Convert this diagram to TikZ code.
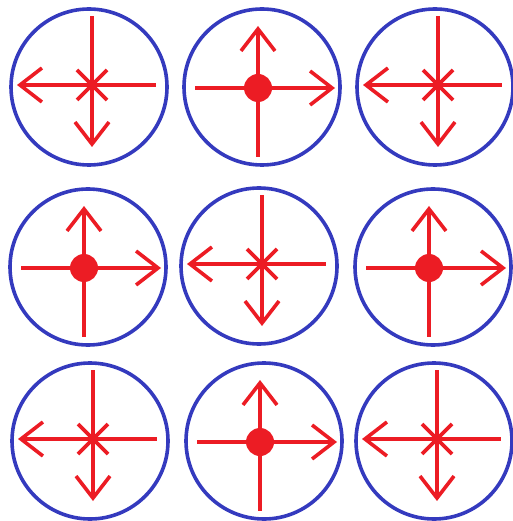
\documentclass[tikz,border=0pt]{standalone}
\usetikzlibrary{arrows.meta}
\definecolor{ringblue}{RGB}{52,58,190}
\definecolor{arrred}{RGB}{236,28,36}
\tikzset{
  ring/.style={draw=ringblue, line width=3.6pt},
  axis/.style={draw=arrred, line width=3.6pt},
  axarrow/.style={axis, -{Straight Barb[length=22pt,width=34pt,line width=3.6pt]}},
  hub/.style={fill=arrred},
}
\newcommand\cellA[2]{%
  \path[ring] (#1,#2) circle (78);
  \begin{scope}[shift={(#1+3,#2-2)}]
    \path[axarrow] (0,0) -- (-75,0);
    \path[axarrow] (0,0) -- (0,62);
    \path[axis] (0,0) -- (64,0);
    \path[axis] (0,0) -- (0,-69);
    \path[axis] (-15,-15) -- (15,15);
    \path[axis] (15,-15) -- (-15,15);
  \end{scope}}
\newcommand\cellB[2]{%
  \path[ring] (#1,#2) circle (78);
  \begin{scope}[shift={(#1-4,#2+1)}]
    \path[axarrow] (0,0) -- (77,0);
    \path[axarrow] (0,0) -- (0,-62);
    \path[axis] (0,0) -- (-63,0);
    \path[axis] (0,0) -- (0,69);
    \path[hub] (0,0) circle (14);
  \end{scope}}
\begin{document}
\begin{tikzpicture}[x=1pt,y=-1pt]
\useasboundingbox (0,0) rectangle (512,521);
\cellA{89}{87}
\cellB{262}{87}
\cellA{435}{87}
\cellB{88}{267}
\cellA{259}{266}
\cellB{433}{267}
\cellA{90}{441}
\cellB{264}{441}
\cellA{434}{441}
\end{tikzpicture}
\end{document}
